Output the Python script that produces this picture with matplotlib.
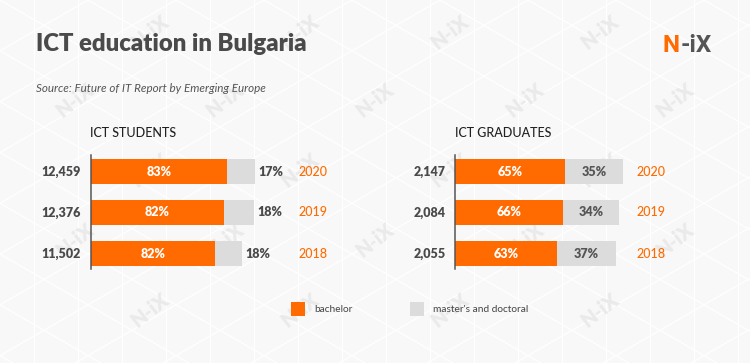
import numpy as np
import matplotlib
matplotlib.use("Agg")
import matplotlib.pyplot as plt
import matplotlib.transforms as mtransforms
from matplotlib.patches import Rectangle
from matplotlib.lines import Line2D

# ---------------- data ----------------
years = ["2020", "2019", "2018"]
students_total = [12459, 12376, 11502]
students_bachelor_pct = [83, 82, 82]
students_master_pct = [17, 18, 18]
graduates_total = [2147, 2084, 2055]
graduates_bachelor_pct = [65, 66, 63]
graduates_master_pct = [35, 34, 37]
legend_labels = ["bachelor", "master's and doctoral"]

title = "ICT education in Bulgaria"
source = "Source: Future of IT Report by Emerging Europe"
panel_titles = ["ICT STUDENTS", "ICT GRADUATES"]

# ---------------- style ----------------
ORANGE = "#FF6B00"
GREY = "#DCDCDC"
BG = "#F8F8F8"
DARK = "#4A4A4A"
FONT = "Lato"
BOLD = "heavy"

W, H = 750, 363
fig = plt.figure(figsize=(W / 100, H / 100), dpi=100)
fig.patch.set_facecolor(BG)


def fx(x):
    return x / W


def fy(y):
    return 1 - y / H


# background triangular grid
bg = fig.add_axes([0, 0, 1, 1], zorder=-10)
bg.set_xlim(0, W)
bg.set_ylim(H, 0)
bg.axis("off")
d = 44.0
for k in range(-2, int(W / d) + 3):
    bg.add_line(Line2D([k * d + 34, k * d + 34], [0, H], color="white", lw=0.9))
ang = np.deg2rad(30)
step = d * np.tan(ang) * 2
for sgn in (1, -1):
    slope = sgn * np.tan(ang)
    for k in range(-40, 40):
        c = k * step
        xs = np.array([0, W])
        bg.add_line(Line2D(xs, c + slope * xs, color="white", lw=0.9))

# watermarks (only the ones that sit fully inside the picture)
for r, yy in enumerate([32, 100, 170, 240, 310]):
    off = 0 if r % 2 == 0 else 75
    for k in range(-1, 7):
        xx = 0 + off + 150 * k
        if xx < 30 or xx > 720:
            continue
        bg.text(xx, yy, "N-iX", rotation=38, ha="center", va="center",
                fontsize=14.5, fontweight="heavy", family=FONT, color="#EAEAEA")

# titles
fig.text(fx(36), fy(44), title, fontsize=17.2, fontweight=BOLD, family=FONT,
         color=DARK, ha="left", va="center")
fig.text(fx(36), fy(89), source, fontsize=8.4, style="italic", family=FONT,
         color="#555555", ha="left", va="center")

# logo
lx, ly = fx(663), fy(45)
t1 = fig.text(lx, ly, "N", fontsize=17.5, fontweight="bold", family="Roboto",
              color=ORANGE, ha="left", va="center")
fig.canvas.draw()
bb = t1.get_window_extent()
fig.text(bb.x1 / fig.dpi / fig.get_figwidth(), ly, "-iX", fontsize=17.5,
         fontweight="bold", family="Roboto", color="#555555", ha="left", va="center")


def panel(x_axis, ptitle, totals, bpct, mpct, x_max_px_len, year_x, master_inside):
    ax = fig.add_axes([fx(x_axis), fy(269), 200 / W, (269 - 155) / H])
    ax.set_facecolor("none")
    totals = np.array(totals, dtype=float)
    bach = totals * np.array(bpct) / 100.0
    mast = totals * np.array(mpct) / 100.0
    y = np.arange(len(totals))
    ax.set_xlim(0, totals.max() * 200 / x_max_px_len)
    ax.set_ylim(2 + 15.5 / 41, -16.5 / 41)
    h = 25 / 41
    ax.barh(y, bach, height=h, color=ORANGE, linewidth=0)
    ax.barh(y, mast, left=bach, height=h, color=GREY, linewidth=0)
    for s in ["top", "right", "bottom"]:
        ax.spines[s].set_visible(False)
    ax.spines["left"].set_color("#555555")
    ax.spines["left"].set_linewidth(1.1)
    ax.set_xticks([])
    ax.set_yticks([])

    tr_year = mtransforms.blended_transform_factory(fig.transFigure, ax.transData)
    for i in range(len(totals)):
        ax.annotate(f"{int(totals[i]):,}", xy=(0, y[i]), xytext=(-7, 0),
                    textcoords="offset points", ha="right", va="center",
                    fontsize=9, fontweight=BOLD, family=FONT, color=DARK)
        ax.text(bach[i] / 2, y[i], f"{bpct[i]}%", ha="center", va="center",
                fontsize=9, fontweight=BOLD, family=FONT, color="white")
        if master_inside:
            ax.text(bach[i] + mast[i] / 2, y[i], f"{mpct[i]}%", ha="center",
                    va="center", fontsize=9, fontweight=BOLD, family=FONT,
                    color="#555555")
        else:
            ax.annotate(f"{mpct[i]}%", xy=(bach[i] + mast[i], y[i]), xytext=(2.5, 0),
                        textcoords="offset points", ha="left", va="center",
                        fontsize=9, fontweight=BOLD, family=FONT, color=DARK)
        ax.text(fx(year_x), y[i], years[i], transform=tr_year, ha="left",
                va="center", fontsize=9, fontweight="medium", family=FONT,
                color=ORANGE)
    fig.text(fx(x_axis - 0.5), fy(133), ptitle, fontsize=9, fontweight="medium",
             family=FONT, color="#222222", ha="left", va="center")
    return ax


panel(90.5, panel_titles[0], students_total, students_bachelor_pct,
      students_master_pct, 164.5, 298, False)
panel(455.5, panel_titles[1], graduates_total, graduates_bachelor_pct,
      graduates_master_pct, 168, 636, True)

# legend
for (x0, col, lab) in [(291, ORANGE, legend_labels[0]), (410, GREY, legend_labels[1])]:
    fig.patches.append(Rectangle((fx(x0), fy(316)), 14 / W, 14 / H,
                                 transform=fig.transFigure, facecolor=col,
                                 edgecolor="none"))
    fig.text(fx(x0 + 23), fy(309.5), lab, fontsize=7.3, family=FONT,
             color="#444444", ha="left", va="center")

fig.savefig("out.png", dpi=100, facecolor=BG)
